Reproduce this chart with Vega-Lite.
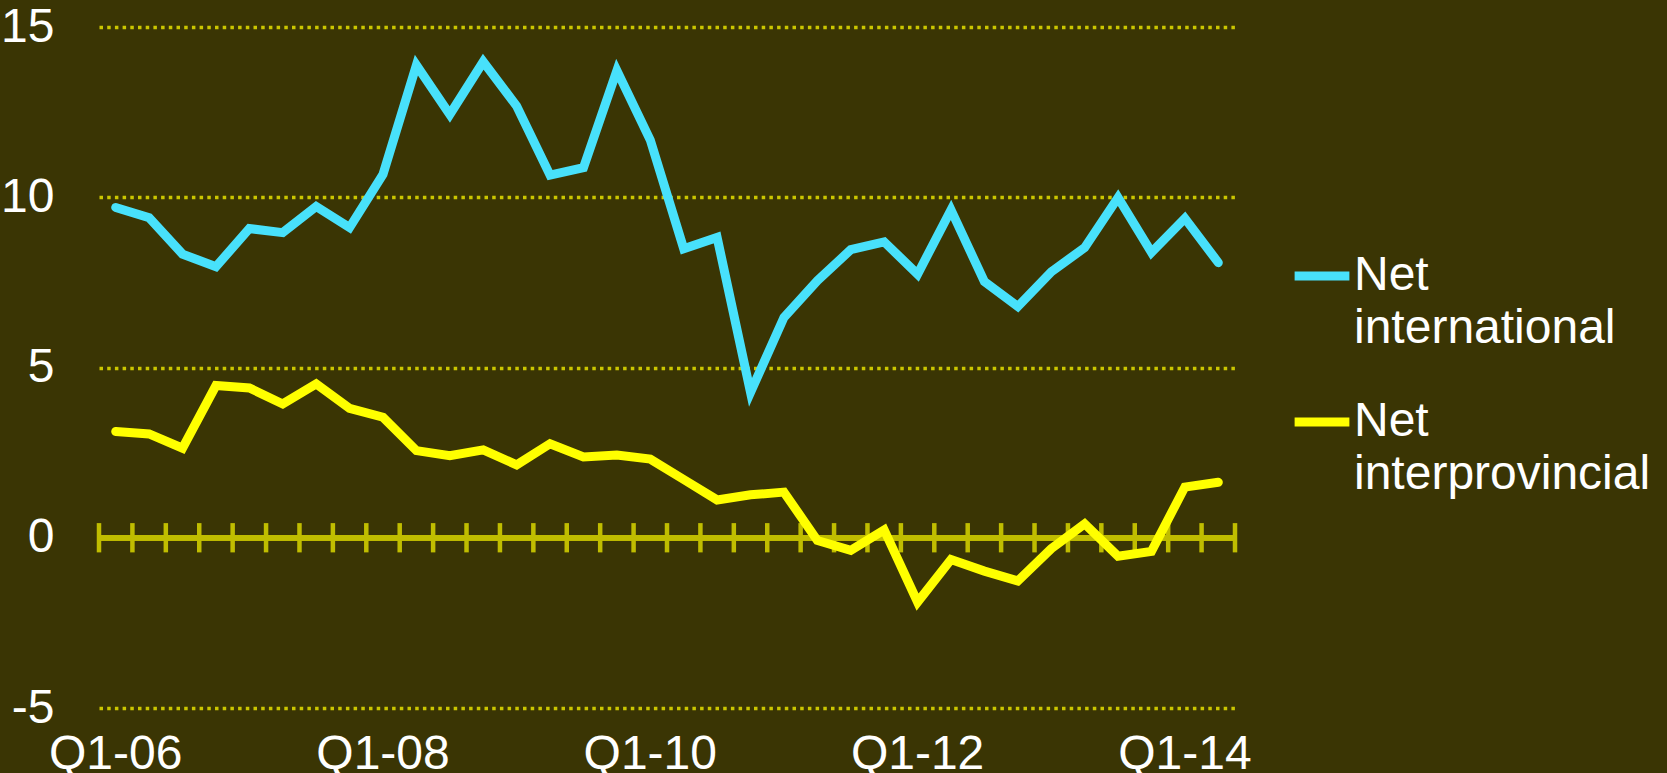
{
  "$schema": "https://vega.github.io/schema/vega-lite/v6.json",
  "autosize": "none",
  "width": 1136,
  "height": 681,
  "padding": {"left": 99, "top": 27, "right": 432, "bottom": 65},
  "background": "#3a3504",
  "config": {"view": {"stroke": null}, "font": "Liberation Sans"},
  "data": {
    "values": [
      {"q": "Q1-06", "s": "Net international", "v": 9.70},
      {"q": "Q2-06", "s": "Net international", "v": 9.40},
      {"q": "Q3-06", "s": "Net international", "v": 8.33},
      {"q": "Q4-06", "s": "Net international", "v": 7.96},
      {"q": "Q1-07", "s": "Net international", "v": 9.08},
      {"q": "Q2-07", "s": "Net international", "v": 8.96},
      {"q": "Q3-07", "s": "Net international", "v": 9.73},
      {"q": "Q4-07", "s": "Net international", "v": 9.11},
      {"q": "Q1-08", "s": "Net international", "v": 10.67},
      {"q": "Q2-08", "s": "Net international", "v": 13.88},
      {"q": "Q3-08", "s": "Net international", "v": 12.43},
      {"q": "Q4-08", "s": "Net international", "v": 13.98},
      {"q": "Q1-09", "s": "Net international", "v": 12.68},
      {"q": "Q2-09", "s": "Net international", "v": 10.65},
      {"q": "Q3-09", "s": "Net international", "v": 10.87},
      {"q": "Q4-09", "s": "Net international", "v": 13.72},
      {"q": "Q1-10", "s": "Net international", "v": 11.68},
      {"q": "Q2-10", "s": "Net international", "v": 8.49},
      {"q": "Q3-10", "s": "Net international", "v": 8.82},
      {"q": "Q4-10", "s": "Net international", "v": 4.27},
      {"q": "Q1-11", "s": "Net international", "v": 6.47},
      {"q": "Q2-11", "s": "Net international", "v": 7.55},
      {"q": "Q3-11", "s": "Net international", "v": 8.46},
      {"q": "Q4-11", "s": "Net international", "v": 8.69},
      {"q": "Q1-12", "s": "Net international", "v": 7.74},
      {"q": "Q2-12", "s": "Net international", "v": 9.63},
      {"q": "Q3-12", "s": "Net international", "v": 7.52},
      {"q": "Q4-12", "s": "Net international", "v": 6.79},
      {"q": "Q1-13", "s": "Net international", "v": 7.81},
      {"q": "Q2-13", "s": "Net international", "v": 8.52},
      {"q": "Q3-13", "s": "Net international", "v": 9.99},
      {"q": "Q4-13", "s": "Net international", "v": 8.38},
      {"q": "Q1-14", "s": "Net international", "v": 9.38},
      {"q": "Q2-14", "s": "Net international", "v": 8.08},
      {"q": "Q1-06", "s": "Net interprovincial", "v": 3.12},
      {"q": "Q2-06", "s": "Net interprovincial", "v": 3.05},
      {"q": "Q3-06", "s": "Net interprovincial", "v": 2.63},
      {"q": "Q4-06", "s": "Net interprovincial", "v": 4.47},
      {"q": "Q1-07", "s": "Net interprovincial", "v": 4.40},
      {"q": "Q2-07", "s": "Net interprovincial", "v": 3.93},
      {"q": "Q3-07", "s": "Net interprovincial", "v": 4.52},
      {"q": "Q4-07", "s": "Net interprovincial", "v": 3.80},
      {"q": "Q1-08", "s": "Net interprovincial", "v": 3.54},
      {"q": "Q2-08", "s": "Net interprovincial", "v": 2.56},
      {"q": "Q3-08", "s": "Net interprovincial", "v": 2.41},
      {"q": "Q4-08", "s": "Net interprovincial", "v": 2.58},
      {"q": "Q1-09", "s": "Net interprovincial", "v": 2.14},
      {"q": "Q2-09", "s": "Net interprovincial", "v": 2.76},
      {"q": "Q3-09", "s": "Net interprovincial", "v": 2.37},
      {"q": "Q4-09", "s": "Net interprovincial", "v": 2.43},
      {"q": "Q1-10", "s": "Net interprovincial", "v": 2.31},
      {"q": "Q2-10", "s": "Net interprovincial", "v": 1.71},
      {"q": "Q3-10", "s": "Net interprovincial", "v": 1.11},
      {"q": "Q4-10", "s": "Net interprovincial", "v": 1.26},
      {"q": "Q1-11", "s": "Net interprovincial", "v": 1.34},
      {"q": "Q2-11", "s": "Net interprovincial", "v": -0.08},
      {"q": "Q3-11", "s": "Net interprovincial", "v": -0.37},
      {"q": "Q4-11", "s": "Net interprovincial", "v": 0.23},
      {"q": "Q1-12", "s": "Net interprovincial", "v": -1.89},
      {"q": "Q2-12", "s": "Net interprovincial", "v": -0.64},
      {"q": "Q3-12", "s": "Net interprovincial", "v": -0.98},
      {"q": "Q4-12", "s": "Net interprovincial", "v": -1.27},
      {"q": "Q1-13", "s": "Net interprovincial", "v": -0.32},
      {"q": "Q2-13", "s": "Net interprovincial", "v": 0.41},
      {"q": "Q3-13", "s": "Net interprovincial", "v": -0.54},
      {"q": "Q4-13", "s": "Net interprovincial", "v": -0.40},
      {"q": "Q1-14", "s": "Net interprovincial", "v": 1.49},
      {"q": "Q2-14", "s": "Net interprovincial", "v": 1.63}
    ]
  },
  "layer": [
    {
      "mark": {"type": "rule", "color": "#c0bd00", "strokeWidth": 5},
      "encoding": {
        "y": {"datum": 0, "type": "quantitative", "scale": {"domain": [-5, 15], "nice": false, "zero": false}}
      }
    },
    {
      "transform": [{"filter": "datum.s == 'Net international'"}],
      "mark": {"type": "rule", "color": "#c0bd00", "strokeWidth": 4.5},
      "encoding": {
        "x": {"field": "q", "type": "ordinal", "bandPosition": 0, "scale": {"type": "band", "paddingInner": 0, "paddingOuter": 0, "domain": ["Q1-06","Q2-06","Q3-06","Q4-06","Q1-07","Q2-07","Q3-07","Q4-07","Q1-08","Q2-08","Q3-08","Q4-08","Q1-09","Q2-09","Q3-09","Q4-09","Q1-10","Q2-10","Q3-10","Q4-10","Q1-11","Q2-11","Q3-11","Q4-11","Q1-12","Q2-12","Q3-12","Q4-12","Q1-13","Q2-13","Q3-13","Q4-13","Q1-14","Q2-14"]}},
        "y": {"datum": -0.43, "type": "quantitative"},
        "y2": {"datum": 0.43}
      }
    },
    {
      "transform": [{"filter": "datum.s == 'Net international' && datum.q == 'Q2-14'"}],
      "mark": {"type": "rule", "color": "#c0bd00", "strokeWidth": 4.5},
      "encoding": {
        "x": {"field": "q", "type": "ordinal", "bandPosition": 1, "scale": {"type": "band", "paddingInner": 0, "paddingOuter": 0, "domain": ["Q1-06","Q2-06","Q3-06","Q4-06","Q1-07","Q2-07","Q3-07","Q4-07","Q1-08","Q2-08","Q3-08","Q4-08","Q1-09","Q2-09","Q3-09","Q4-09","Q1-10","Q2-10","Q3-10","Q4-10","Q1-11","Q2-11","Q3-11","Q4-11","Q1-12","Q2-12","Q3-12","Q4-12","Q1-13","Q2-13","Q3-13","Q4-13","Q1-14","Q2-14"]}},
        "y": {"datum": -0.43, "type": "quantitative"},
        "y2": {"datum": 0.43}
      }
    },
    {
      "mark": {"type": "line", "strokeWidth": 9, "strokeCap": "round", "strokeJoin": "miter"},
      "encoding": {
        "x": {
          "field": "q", "type": "ordinal", "bandPosition": 0.5,
          "scale": {"type": "band", "paddingInner": 0, "paddingOuter": 0, "domain": ["Q1-06","Q2-06","Q3-06","Q4-06","Q1-07","Q2-07","Q3-07","Q4-07","Q1-08","Q2-08","Q3-08","Q4-08","Q1-09","Q2-09","Q3-09","Q4-09","Q1-10","Q2-10","Q3-10","Q4-10","Q1-11","Q2-11","Q3-11","Q4-11","Q1-12","Q2-12","Q3-12","Q4-12","Q1-13","Q2-13","Q3-13","Q4-13","Q1-14","Q2-14"]},
          "axis": {
            "values": ["Q1-06", "Q1-08", "Q1-10", "Q1-12", "Q1-14"],
            "title": null, "labelAngle": 0, "labelAlign": "center", "domain": false, "ticks": false, "grid": false,
            "labelFontSize": 48, "labelColor": "#ffffff", "labelPadding": 46, "labelFont": "Liberation Sans"
          }
        },
        "y": {
          "field": "v", "type": "quantitative",
          "scale": {"domain": [-5, 15], "nice": false, "zero": false},
          "axis": {
            "values": [-5, 0, 5, 10, 15], "title": null, "domain": false, "ticks": false,
            "labelExpr": "'' + datum.value",
            "grid": true, "gridColor": "#cbc600", "gridWidth": 3.5, "gridDash": [3.5, 4.2],
            "labelFontSize": 48, "labelColor": "#ffffff", "labelPadding": 45, "labelFont": "Liberation Sans"
          }
        },
        "color": {
          "field": "s", "type": "nominal",
          "scale": {"domain": ["Net international", "Net interprovincial"], "range": ["#48e1fb", "#ffff00"]},
          "legend": {
            "orient": "none", "legendX": 1191, "legendY": 217, "title": null,
            "symbolType": "stroke", "symbolSize": 3000, "symbolStrokeWidth": 9,
            "labelFontSize": 48, "labelColor": "#ffffff", "labelFont": "Liberation Sans",
            "labelExpr": "split(datum.label, ' ')", "labelLimit": 400, "labelOffset": 0,
            "rowPadding": 37,
            "encode": {"labels": {"update": {"lineHeight": {"value": 53}}}}
          }
        }
      }
    }
  ]
}
